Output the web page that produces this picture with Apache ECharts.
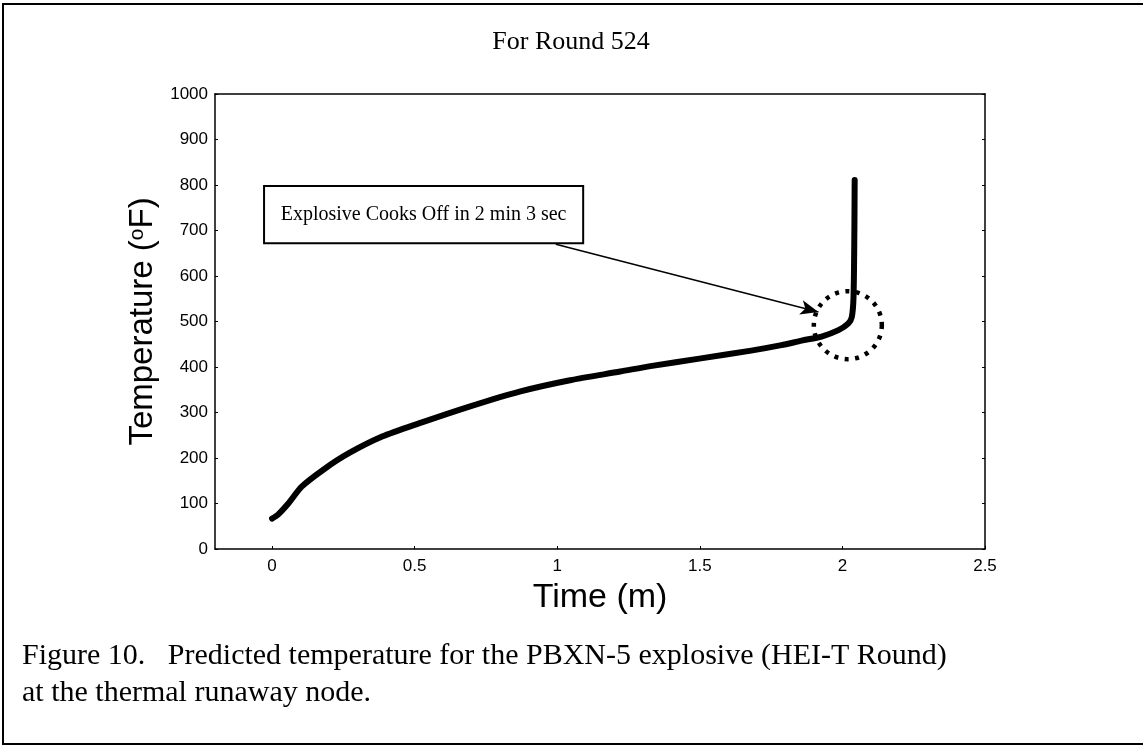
<!DOCTYPE html>
<html>
<head>
<meta charset="utf-8">
<script src="https://cdn.jsdelivr.net/npm/echarts@6/dist/echarts.min.js"></script>
<style>
html,body{margin:0;padding:0;background:#fff;}
#chart{width:1143px;height:746px;}
</style>
</head>
<body>
<div id="chart"></div>
<script>
// ---- data ----
const timeMin = [0, 0.02, 0.057, 0.104, 0.186, 0.268, 0.386, 0.515, 0.692, 0.868, 1.045, 1.221, 1.327, 1.504, 1.680, 1.786, 1.857, 1.927, 1.986, 2.021, 2.033, 2.039, 2.042, 2.043];
const tempF   = [67, 75, 100, 137, 177, 210, 247, 276, 313, 346, 371, 390, 402, 419, 436, 448, 458, 467, 481, 496, 510, 554, 701, 811];
const xTicks = [0, 0.5, 1, 1.5, 2, 2.5];
const titleText = 'For Round 524';
const noteText = 'Explosive Cooks Off in 2 min 3 sec';
const noteBox = [[-0.028, 798], [1.091, 672]];       // annotation box corners (data coords)
const arrowFrom = [0.995, 670];                       // arrow start (data coords)
const arrowTo = [1.916, 521];                         // arrow tip (data coords)
const circleAt = [2.019, 492];                        // dotted circle centre (data coords)
const captionLines = ['Figure 10.   Predicted temperature for the PBXN-5 explosive (HEI-T Round)', 'at the thermal runaway node.'];

const series = timeMin.map((t, i) => [t, tempF[i]]);
const sans = "'Liberation Sans', Arial, sans-serif";
const serif = "'Liberation Serif', 'Times New Roman', serif";

const chart = echarts.init(document.getElementById('chart'), null, {renderer: 'canvas'});
chart.setOption({
  animation: false,
  backgroundColor: '#fff',
  title: {
    text: titleText, left: 566, top: 24, textAlign: 'center',
    textStyle: {fontFamily: serif, fontSize: 26, fontWeight: 'normal', color: '#000'}
  },
  grid: {left: 215, right: 158, top: 94, bottom: 197, containLabel: false},
  xAxis: [{
    type: 'value', min: -0.2, max: 2.5, position: 'bottom',
    name: 'Time (m)', nameLocation: 'middle', nameGap: 32,
    nameTextStyle: {fontFamily: sans, fontSize: 34, color: '#000'},
    axisLine: {onZero: false, lineStyle: {color: '#000', width: 1.5}},
    axisTick: {inside: true, length: 3, customValues: xTicks, lineStyle: {color: '#000'}},
    axisLabel: {customValues: xTicks, margin: 9, fontFamily: sans, fontSize: 17, color: '#000'},
    splitLine: {show: false}
  }, {
    type: 'value', min: -0.2, max: 2.5, position: 'top',
    axisLine: {onZero: false, lineStyle: {color: '#000', width: 1.5}},
    axisTick: {show: false}, axisLabel: {show: false}, splitLine: {show: false}
  }],
  yAxis: [{
    type: 'value', min: 0, max: 1000, interval: 100, position: 'left',
    name: '{a|Temperature (}{b|o}{a|F)}', nameLocation: 'middle', nameGap: 53,
    nameTextStyle: {rich: {
      a: {fontFamily: sans, fontSize: 33, color: '#000'},
      b: {fontFamily: sans, fontSize: 21, color: '#000', verticalAlign: 'top'}
    }},
    axisLine: {show: true, onZero: false, lineStyle: {color: '#000', width: 1.5}},
    axisTick: {show: true, inside: true, length: 3, lineStyle: {color: '#000'}},
    axisLabel: {margin: 7, fontFamily: sans, fontSize: 17, color: '#000', formatter: v => String(v)},
    splitLine: {show: false}
  }, {
    type: 'value', min: 0, max: 1000, interval: 100, position: 'right',
    axisLine: {show: true, onZero: false, lineStyle: {color: '#000', width: 1.5}},
    axisTick: {show: true, inside: true, length: 3, lineStyle: {color: '#000'}},
    axisLabel: {show: false}, splitLine: {show: false}
  }],
  series: [{
    type: 'line', data: series, showSymbol: false, smooth: 0.25,
    lineStyle: {color: '#000', width: 6, cap: 'round', join: 'round'},
    markArea: {
      silent: true,
      itemStyle: {color: '#fff', borderColor: '#000', borderWidth: 2},
      label: {show: true, position: 'inside', formatter: noteText, fontFamily: serif, fontSize: 20, color: '#000'},
      data: [[{coord: noteBox[0]}, {coord: noteBox[1]}]]
    },
    markLine: {
      silent: true, animation: false,
      symbol: ['none', 'arrow'], symbolSize: [11, 18],
      lineStyle: {color: '#000', width: 1.5, type: 'solid'},
      label: {show: false},
      data: [[{coord: arrowFrom}, {coord: arrowTo}]]
    },
    markPoint: {
      silent: true,
      symbol: 'circle', symbolSize: 68,
      itemStyle: {color: 'rgba(0,0,0,0)', borderColor: '#000', borderWidth: 4.5, borderType: [4, 6.5]},
      label: {show: false},
      data: [{coord: circleAt}]
    }
  }],
  graphic: [
    {type: 'rect', shape: {x: 3, y: 4, width: 1160, height: 740}, style: {fill: 'none', stroke: '#000', lineWidth: 2}, silent: true, z: -1},
    {type: 'text', left: 22, top: 641, style: {text: captionLines[0], fontFamily: serif, fontSize: 30, fill: '#000'}},
    {type: 'text', left: 22, top: 678, style: {text: captionLines[1], fontFamily: serif, fontSize: 30, fill: '#000'}}
  ]
});
</script>
</body>
</html>
